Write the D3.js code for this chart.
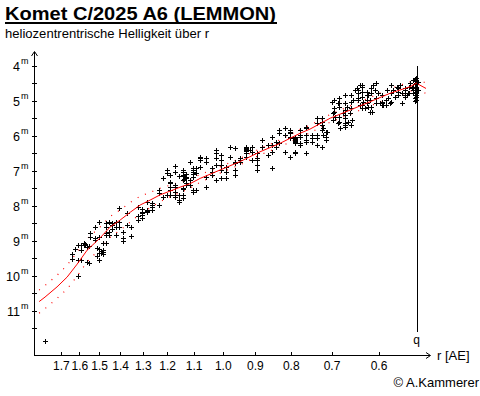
<!DOCTYPE html>
<html><head><meta charset="utf-8">
<script src="https://cdn.jsdelivr.net/npm/d3@7"></script>
<style>
body{margin:0;background:#fff}
svg{display:block}
text{font-family:"Liberation Sans",Arial,sans-serif;fill:#000}
</style>
</head><body>
<svg id="c" width="480" height="396"></svg>
<script>
// ---------- data ----------
const titleText = "Komet C/2025 A6 (LEMMON)";
const subtitleText = "heliozentrentrische Helligkeit über r";
const creditText = "© A.Kammerer";
const xAxisLabel = "r [AE]";
const perihelionLabel = "q";
const perihelion = 0.5296;              // q in AE
const xTicks = [1.7, 1.6, 1.5, 1.4, 1.3, 1.2, 1.1, 1.0, 0.9, 0.8, 0.7, 0.6];
const yTicks = [4, 4.5, 5, 5.5, 6, 6.5, 7, 7.5, 8, 8.5, 9, 9.5, 10, 10.5, 11, 11.5];
const yLabels = [4, 5, 6, 7, 8, 9, 10, 11];

// observations: [r (AE), [heliocentric magnitudes]]
const observations = [
  [1.791, [11.87]],
  [1.639, [9.38, 9.51]],
  [1.623, [9.25]],
  [1.610, [9.55, 10.01, 9.12]],
  [1.594, [9.12, 9.27, 9.55]],
  [1.577, [9.07, 9.12]],
  [1.572, [9.10]],
  [1.563, [9.17, 9.60]],
  [1.552, [9.14, 9.63]],
  [1.545, [8.79, 8.89]],
  [1.522, [8.93, 8.62, 8.98]],
  [1.510, [9.22, 9.44]],
  [1.499, [8.46, 9.55, 9.25, 8.89, 9.36]],
  [1.490, [9.30, 9.35]],
  [1.483, [9.27, 9.38, 9.31, 9.07]],
  [1.466, [8.50, 8.79, 8.60, 8.84, 9.06]],
  [1.452, [8.46, 8.74, 8.84]],
  [1.438, [8.50, 8.67, 8.55]],
  [1.421, [8.60, 8.46, 8.84]],
  [1.405, [8.46, 8.07, 8.60]],
  [1.389, [8.74, 8.93, 9.00]],
  [1.370, [8.22, 8.55]],
  [1.353, [8.60, 8.87]],
  [1.320, [8.03, 8.29, 8.41]],
  [1.305, [8.22, 8.17, 8.10, 8.27, 8.36]],
  [1.282, [8.17, 8.12, 8.14, 7.89]],
  [1.263, [8.03, 7.98, 7.91, 8.12]],
  [1.234, [7.55, 7.98, 7.65]],
  [1.218, [7.20, 7.74]],
  [1.200, [7.07, 7.69, 6.98]],
  [1.189, [7.34, 7.12, 7.31, 7.55, 7.69, 7.46]],
  [1.171, [6.87, 7.41, 7.69, 7.03, 7.74, 7.46, 7.60]],
  [1.154, [7.15, 7.69, 7.84, 7.89]],
  [1.141, [7.03, 7.79, 7.48, 7.27, 7.12, 7.51, 7.69, 6.98]],
  [1.134, [7.15, 7.24]],
  [1.128, [7.17, 7.36, 7.21, 7.41, 7.08]],
  [1.115, [7.41, 6.76, 6.74, 7.27]],
  [1.104, [7.60, 6.93, 7.03, 7.17, 7.55, 6.98, 7.08]],
  [1.091, [6.93, 7.07, 7.55]],
  [1.077, [6.65, 6.60, 6.69, 6.89]],
  [1.055, [6.65, 6.74, 7.46, 7.17]],
  [1.037, [6.93, 7.03, 7.12]],
  [1.022, [6.41, 6.50, 6.65, 7.27, 6.84]],
  [1.006, [6.55, 6.69, 6.98, 6.84, 7.22]],
  [0.991, [7.03, 7.22, 6.89]],
  [0.976, [6.31, 6.60]],
  [0.962, [6.74, 6.98, 7.12, 6.36, 6.79]],
  [0.945, [6.69, 6.65, 6.74]],
  [0.926, [6.60, 6.41, 6.50, 6.31, 6.36, 6.45, 6.38]],
  [0.915, [6.42]],
  [0.910, [6.46, 6.31, 6.69]],
  [0.894, [6.65, 6.69, 6.84, 6.98, 6.50]],
  [0.878, [6.12, 6.31]],
  [0.863, [6.27, 6.55]],
  [0.851, [6.03, 6.27, 6.46, 6.93]],
  [0.840, [6.17, 6.31]],
  [0.831, [5.93, 6.22, 5.84]],
  [0.815, [5.79, 5.98, 6.46]],
  [0.802, [5.89, 6.03, 5.84, 5.93, 6.07, 6.62]],
  [0.789, [6.07, 6.12, 6.17, 6.03, 6.22, 6.46, 6.50, 6.10, 6.15]],
  [0.776, [6.03, 5.98, 5.84, 6.27, 6.22]],
  [0.760, [6.17, 6.12, 5.98, 6.50, 5.79, 5.74]],
  [0.747, [5.98, 6.07, 6.17]],
  [0.735, [6.27, 6.07, 5.98, 5.50, 5.64]],
  [0.7228, [5.60]],
  [0.723, [5.50, 5.69, 5.84, 6.31]],
  [0.7191, [5.79, 5.98]],
  [0.712, [5.89, 6.03, 6.12]],
  [0.7110, [5.89]],
  [0.6995, [5.03]],
  [0.6959, [5.36, 5.55]],
  [0.695, [4.98, 5.22, 5.31]],
  [0.692, [5.46]],
  [0.6846, [5.07, 5.65]],
  [0.682, [4.93, 5.07, 5.17, 5.46, 5.60]],
  [0.6807, [5.79]],
  [0.6734, [5.36]],
  [0.670, [5.27, 5.41, 5.50, 5.65, 5.74]],
  [0.6697, [4.84, 5.07, 5.50, 5.69]],
  [0.6659, [5.17]],
  [0.6625, [5.60]],
  [0.6588, [5.36]],
  [0.656, [5.69, 4.84, 5.03, 5.22]],
  [0.6551, [5.55]],
  [0.6517, [4.98]],
  [0.648, [4.69]],
  [0.6445, [4.65]],
  [0.641, [4.69, 4.79, 4.93, 4.98]],
  [0.6375, [4.55, 5.12]],
  [0.634, [4.60, 4.89]],
  [0.633, [4.55, 4.74, 5.12, 5.22]],
  [0.6307, [5.03]],
  [0.6271, [5.22]],
  [0.624, [5.07, 4.84, 4.98]],
  [0.6237, [4.74]],
  [0.6204, [4.84, 5.17]],
  [0.617, [5.31, 4.98]],
  [0.614, [5.17, 4.79, 4.65]],
  [0.6136, [5.31]],
  [0.6103, [4.55]],
  [0.607, [4.69]],
  [0.604, [5.07, 4.50, 4.93]],
  [0.6004, [4.79]],
  [0.597, [5.07]],
  [0.594, [5.07, 4.84, 5.12]],
  [0.5937, [5.03]],
  [0.5906, [5.12]],
  [0.585, [4.98, 5.12]],
  [0.5841, [4.69]],
  [0.581, [4.93]],
  [0.5778, [5.07]],
  [0.575, [5.03, 4.55, 4.79]],
  [0.5716, [4.69]],
  [0.5684, [4.89]],
  [0.5653, [4.60]],
  [0.562, [4.65, 4.74, 4.84]],
  [0.5592, [4.55]],
  [0.556, [5.07, 4.79]],
  [0.550, [4.84, 4.65, 4.89, 4.69]],
  [0.547, [4.84]],
  [0.5441, [4.79]],
  [0.543, [4.79, 4.60]],
  [0.5411, [4.50]],
  [0.5381, [4.65]],
  [0.535, [4.60, 4.79, 4.41, 4.69]],
  [0.533, [4.38, 4.52, 4.62, 4.75, 4.92, 5.02]],
  [0.5305, [4.50, 4.60, 4.79, 4.89, 4.98, 4.35, 4.45, 4.70, 4.85]],
  [0.5266, [4.46, 4.69]]
];

// fitted light curve and its scatter band half-width
const fitR    = [1.826, 1.791, 1.722, 1.666, 1.612, 1.560, 1.495, 1.447, 1.400, 1.355, 1.311, 1.269, 1.228, 1.177, 1.150, 1.113, 1.077, 1.009, 0.945, 0.885, 0.829, 0.776, 0.751, 0.703, 0.659, 0.617, 0.578, 0.541, 0.530, 0.5135];
const fitMag  = [10.74, 10.61, 10.32, 10.04, 9.67, 9.27, 8.92, 8.61, 8.41, 8.19, 7.98, 7.84, 7.69, 7.55, 7.47, 7.37, 7.22, 6.98, 6.74, 6.46, 6.22, 5.93, 5.81, 5.50, 5.27, 5.03, 4.79, 4.60, 4.50, 4.65];
const fitBand = [0.33, 0.33, 0.33, 0.34, 0.34, 0.33, 0.31, 0.30, 0.29, 0.28, 0.25, 0.22, 0.19, 0.16, 0.15, 0.13, 0.11, 0.09, 0.09, 0.09, 0.10, 0.11, 0.11, 0.11, 0.12, 0.12, 0.13, 0.14, 0.14, 0.15];

// ---------- drawing ----------
const svg = d3.select("#c");
const x = d3.scaleLog().domain([1.857, 0.5068]).range([34, 430]);
const y = d3.scaleLinear().domain([4, 12]).range([65.7, 345.7]);
const axisY = 355, axisX = 34;

// title
svg.append("text").attr("x", 5).attr("y", 20).attr("font-size", 18).attr("font-weight", "bold")
  .attr("textLength", 271).attr("lengthAdjust", "spacingAndGlyphs").text(titleText);
svg.append("rect").attr("x", 5).attr("y", 22).attr("width", 272).attr("height", 2).attr("fill", "#000");
svg.append("text").attr("x", 5).attr("y", 38).attr("font-size", 12)
  .attr("textLength", 204).attr("lengthAdjust", "spacingAndGlyphs").text(subtitleText);

// red fit band (dotted) and line
const fitData = fitR.map((r, i) => ({r, m: fitMag[i], b: fitBand[i]}));
const gBand = svg.append("g");
[-1, 1].forEach(s => {
  gBand.append("path").datum(fitData)
    .attr("d", d3.line().x(d => x(d.r)).y(d => y(d.m + s * d.b)))
    .attr("fill", "none").attr("stroke", "#ff0000").attr("stroke-width", 1.2).attr("stroke-dasharray", "1,7");
});

// observations
const pts = [];
observations.forEach(([r, ms]) => ms.forEach(m => pts.push({r, m})));
svg.append("g").selectAll("path").data(pts).join("path")
  .attr("transform", d => `translate(${Math.round(x(d.r))},${Math.round(y(d.m))})`)
  .attr("d", "M-2,0.5H3M0.5,-2V3")
  .attr("stroke", "#000").attr("stroke-width", 1).attr("fill", "none")
  .attr("shape-rendering", "crispEdges");

// fit line on top
svg.append("path").datum(fitData)
  .attr("d", d3.line().x(d => x(d.r)).y(d => y(d.m)))
  .attr("fill", "none").attr("stroke", "#ff0000").attr("stroke-width", 1);

// x axis
const xAxis = d3.axisBottom(x).tickValues(xTicks).tickFormat(d3.format(".1f")).tickSizeOuter(0).tickSizeInner(2).tickPadding(4);
const gx = svg.append("g").attr("transform", `translate(0,${axisY})`).call(xAxis);
gx.select(".domain").remove();
gx.selectAll(".tick line").attr("y1", -3).attr("y2", 1).attr("stroke", "#000").attr("shape-rendering", "crispEdges");
gx.selectAll(".tick text").attr("font-size", 12).attr("font-family", '"Liberation Sans",Arial,sans-serif').attr("fill", "#000").attr("dy", "0.71em").attr("y", 6);
svg.append("line").attr("x1", axisX).attr("x2", 430).attr("y1", axisY + 0.5).attr("y2", axisY + 0.5)
  .attr("stroke", "#000").attr("shape-rendering", "crispEdges");
svg.append("path").attr("d", `M426,${axisY - 2.5}L430.5,${axisY + 0.5}L426,${axisY + 3.5}`).attr("fill", "none").attr("stroke", "#000");
svg.append("text").attr("x", 437).attr("y", axisY + 4.5).attr("font-size", 13).text(xAxisLabel);

// y axis
const yAxis = d3.axisLeft(y).tickValues(yTicks).tickFormat("").tickSizeOuter(0).tickSizeInner(2);
const gy = svg.append("g").attr("transform", `translate(${axisX},0)`).call(yAxis);
gy.select(".domain").remove();
gy.selectAll(".tick line").attr("x1", -2).attr("x2", 3).attr("stroke", "#000").attr("shape-rendering", "crispEdges");
svg.append("line").attr("x1", axisX + 0.5).attr("x2", axisX + 0.5).attr("y1", 52).attr("y2", axisY + 1)
  .attr("stroke", "#000").attr("shape-rendering", "crispEdges");
svg.append("path").attr("d", `M${axisX - 2.5},56L${axisX + 0.5},51.5L${axisX + 3.5},56`).attr("fill", "none").attr("stroke", "#000");
const gl = svg.append("g");
yLabels.forEach(v => {
  gl.append("text").attr("x", 20).attr("y", y(v) + 5.5).attr("font-size", 12.5).attr("text-anchor", "end").text(String(v));
  gl.append("text").attr("x", 21).attr("y", y(v) - 2).attr("font-size", 9).text("m");
});

// perihelion line
svg.append("line").attr("x1", Math.round(x(perihelion)) + 0.5).attr("x2", Math.round(x(perihelion)) + 0.5)
  .attr("y1", 66).attr("y2", 332).attr("stroke", "#000").attr("shape-rendering", "crispEdges");
svg.append("text").attr("x", x(perihelion)).attr("y", 344).attr("font-size", 12).attr("text-anchor", "middle").text(perihelionLabel);

// credit
svg.append("text").attr("x", 479).attr("y", 387).attr("font-size", 13).attr("text-anchor", "end").text(creditText);
</script>
</body></html>
